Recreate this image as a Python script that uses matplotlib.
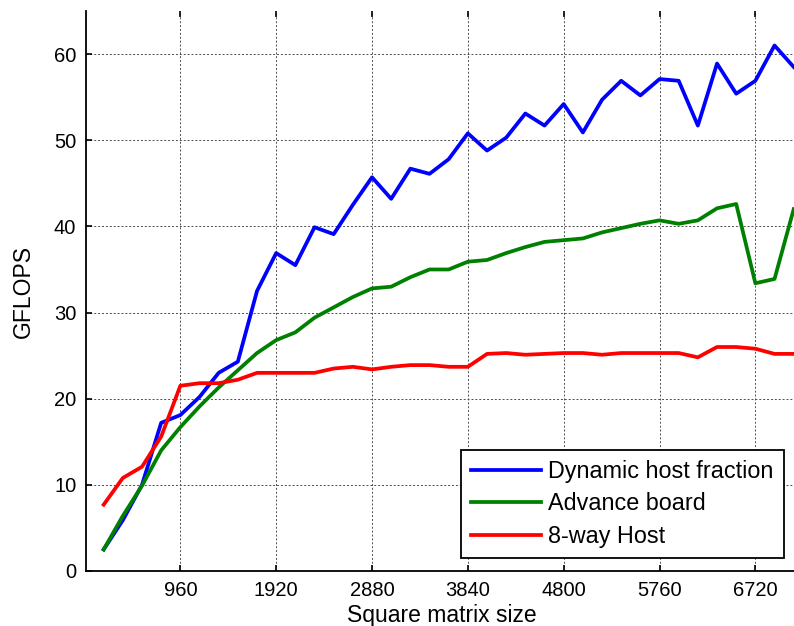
import numpy as np
import matplotlib
matplotlib.use("Agg")
import matplotlib.pyplot as plt

plt.rcParams['font.family'] = ['Liberation Sans', 'DejaVu Sans']

# matrix sizes (step of 192)
sizes = [192 * k for k in range(1, 38)]

dynamic = [2.5, 5.9, 10.0, 17.2, 18.1, 20.2, 23.0, 24.3, 32.5, 36.9,
           35.5, 39.9, 39.1, 42.5, 45.7, 43.2, 46.7, 46.1, 47.8, 50.8,
           48.8, 50.3, 53.1, 51.7, 54.2, 50.9, 54.7, 56.9, 55.2, 57.1,
           56.9, 51.7, 58.9, 55.4, 56.9, 61.0, 58.5]
advance = [2.5, 6.4, 9.9, 14.0, 16.7, 19.1, 21.3, 23.3, 25.3, 26.8,
           27.7, 29.4, 30.6, 31.8, 32.8, 33.0, 34.1, 35.0, 35.0, 35.9,
           36.1, 36.9, 37.6, 38.2, 38.4, 38.6, 39.3, 39.8, 40.3, 40.7,
           40.3, 40.7, 42.1, 42.6, 33.4, 33.9, 42.0]
host8 = [7.7, 10.8, 12.1, 15.6, 21.5, 21.8, 21.8, 22.2, 23.0, 23.0,
         23.0, 23.0, 23.5, 23.7, 23.4, 23.7, 23.9, 23.9, 23.7, 23.7,
         25.2, 25.3, 25.1, 25.2, 25.3, 25.3, 25.1, 25.3, 25.3, 25.3,
         25.3, 24.8, 26.0, 26.0, 25.8, 25.2, 25.2]

xticks = [960, 1920, 2880, 3840, 4800, 5760, 6720]
yticks = [0, 10, 20, 30, 40, 50, 60]

fig = plt.figure(figsize=(7.94, 6.26), dpi=100)
ax = fig.add_axes([86 / 794, 1 - 571 / 626, (797 - 86) / 794, 560 / 626])

ax.plot(sizes, dynamic, color=(0, 0, 1), lw=2.7, label='Dynamic host fraction')
ax.plot(sizes, advance, color=(0, 0.5, 0), lw=2.7, label='Advance board')
ax.plot(sizes, host8, color=(1, 0, 0), lw=2.7, label='8-way Host')

ax.set_xlim(15, 7137)
ax.set_ylim(0, 65)
ax.set_xticks(xticks)
ax.set_yticks(yticks)
ax.tick_params(direction='in', length=4, width=1.2, top=True, labelsize=14.5,
               pad=7, colors='black')
ax.grid(True, linestyle=(0, (2, 2)), color='0.3', lw=0.7)

ax.spines['top'].set_visible(False)
ax.spines['right'].set_visible(False)
ax.spines['left'].set_linewidth(1.3)
ax.spines['bottom'].set_linewidth(1.3)

ax.set_xlabel('Square matrix size', fontsize=16.5, labelpad=3)
ax.set_ylabel('GFLOPS', fontsize=16.5, labelpad=14)

leg = ax.legend(loc='lower right', fontsize=16.8, fancybox=False, framealpha=1,
                edgecolor='black', handlelength=3.0, handletextpad=0.3,
                labelspacing=0.4, borderaxespad=0.55, borderpad=0.45)
leg.get_frame().set_linewidth(1.3)

fig.savefig('out.png', dpi=100)
